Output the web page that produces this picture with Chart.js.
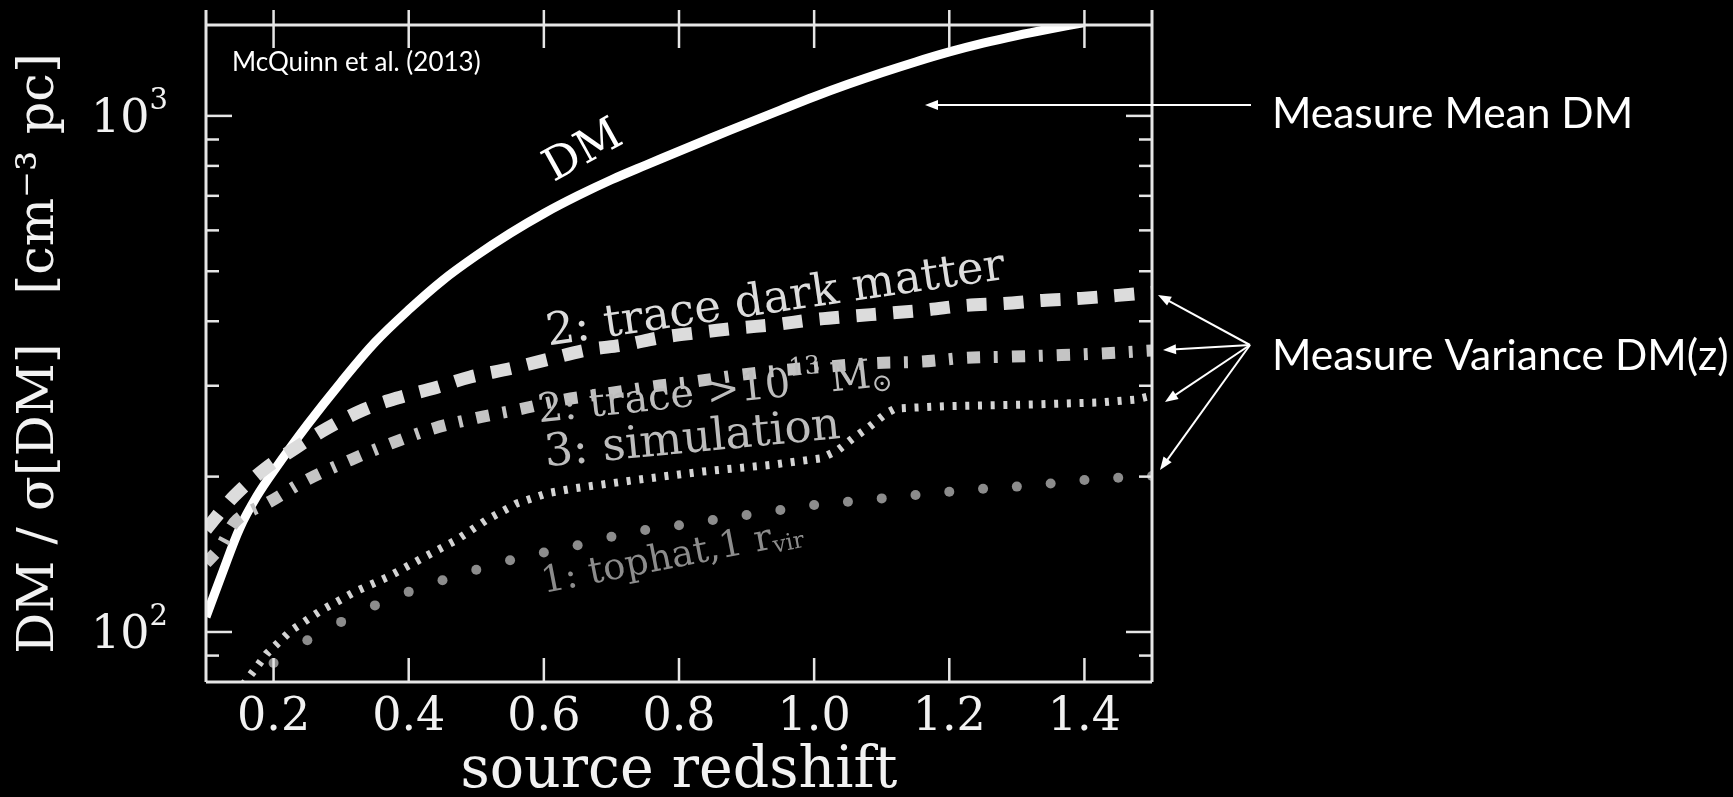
<!DOCTYPE html>
<html>
<head>
<meta charset="utf-8">
<title>DM / sigma[DM] vs source redshift</title>
<script src="https://cdn.jsdelivr.net/npm/chart.js@4.4.1/dist/chart.umd.min.js"></script>
<style>
  html, body { margin: 0; padding: 0; background: #000; }
  #wrap { width: 1733px; height: 797px; }
  canvas { display: block; }
</style>
</head>
<body>
<div id="wrap"><canvas id="dmChart" width="1733" height="797"></canvas></div>
<script>
'use strict';

// axis ticks
const xTicks = [0.2, 0.4, 0.6, 0.8, 1.0, 1.2, 1.4];
const yMajorTicks = [100, 1000];
const yMajorExp = ['2', '3'];
const yMinorTicks = [90, 200, 300, 400, 500, 600, 700, 800, 900];

// DM (mean)
const dmZ   = [0.1, 0.125, 0.15, 0.175, 0.2, 0.25, 0.3, 0.35, 0.4, 0.45, 0.5, 0.55, 0.6, 0.65, 0.7, 0.75, 0.8,
               0.85, 0.9, 0.95, 1.0, 1.05, 1.1, 1.15, 1.2, 1.25, 1.3, 1.35, 1.4];
const dmVal = [107, 131, 159, 183, 205, 252, 305, 364, 421, 480, 536, 592, 647, 700, 752, 802, 854,
               909, 966, 1026, 1089, 1151, 1212, 1272, 1330, 1383, 1431, 1475, 1517];

// 2: trace dark matter
const darkZ   = [0.1, 0.141, 0.185, 0.232, 0.279, 0.333, 0.383, 0.442, 0.491, 0.551, 0.6, 0.664, 0.719, 0.773, 0.827, 0.886, 0.941, 1.0, 1.054, 1.114, 1.168, 1.222, 1.281, 1.338, 1.395, 1.45, 1.5];
const darkVal = [158, 183, 206, 227, 248, 269.5, 284, 298, 312, 324, 336, 352, 360, 372, 380, 388, 394, 403, 409, 415, 421, 429, 433, 439, 443, 449, 455];

// 2: trace >10^13 Msun
const haloZ   = [0.1, 0.121, 0.146, 0.195, 0.249, 0.314, 0.374, 0.437, 0.501, 0.561, 0.63, 0.695, 0.761, 0.825, 0.891, 0.958, 1.022, 1.089, 1.158, 1.222, 1.292, 1.366, 1.425, 1.5];
const haloVal = [136, 146, 165, 179, 197, 215.5, 232, 248, 260, 269.5, 282, 290, 299, 306, 315, 322, 327, 332, 334, 339.6, 341.6, 344, 346.5, 351];

// 3: simulation
const simZ   = [0.155, 0.19, 0.226, 0.27, 0.32, 0.37, 0.42, 0.47, 0.515, 0.56, 0.605, 0.645, 0.735, 0.835, 0.935, 1.01, 1.035, 1.057, 1.082, 1.106, 1.12, 1.145, 1.2, 1.326, 1.425, 1.475, 1.5];
const simVal = [79, 90.8, 100.7, 110, 119.6, 128, 139, 150.6, 164.8, 177.5, 185.7, 189.8, 197, 204.6, 210.7, 217, 225, 237, 250, 265, 271, 272, 274, 276, 278.5, 282, 287];

// 1: tophat, 1 r_vir (one value per dot)
const tophatZ   = [0.2, 0.25, 0.3, 0.35, 0.4, 0.45, 0.5, 0.55, 0.6, 0.65, 0.7, 0.75, 0.8, 0.85, 0.9, 0.95, 1.0, 1.05, 1.1, 1.15, 1.2, 1.25, 1.3, 1.35, 1.4, 1.45, 1.5];
const tophatVal = [87.1, 96.4, 104.6, 112.6, 119.6, 126, 132, 137.7, 142.6, 147.3, 152.9, 157.6, 161, 164.8, 168.5, 172.3, 176.2, 178.8, 181.5, 184.2, 187, 189.5, 191.3, 194, 197, 199, 200.5];

const AXIS_COLOR = '#e6e6e6';
const TEXT_COLOR = '#f2f2f2';
const SERIF = '"DejaVu Serif", serif';

const pts = (zs, vs) => zs.map((z, i) => ({ x: z, y: vs[i] }));

// labels along the curves, anchored in data coordinates
const curveLabels = [
    { parts: [['DM']], z: 0.659, v: 851, angle: -29, size: 45, color: '#ffffff' },
    { parts: [['2: trace dark matter']], z: 0.943, v: 439, angle: -8.3, size: 45, color: '#dcdcdc' },
    { parts: [['2: trace >10'], ['13', 'sup'], ['\u2009M'], ['\u2299', 'sub']], z: 0.853, v: 290, angle: -6, size: 40, color: '#bdbdbd' },
    { parts: [['3: simulation']], z: 0.82, v: 235, angle: -5.5, size: 45, color: '#bdbdbd' },
    { parts: [['1: tophat,1 r'], ['vir', 'sub']], z: 0.79, v: 139, angle: -11, size: 37, color: '#8c8c8c' }
];

// slide annotations (canvas pixels)
const notes = {
    source: { text: 'McQuinn et al. (2013)', x: 232, y: 71, size: 26 },
    mean: { text: 'Measure Mean DM', x: 1272, y: 128, size: 42.5, from: [1251, 105], to: [925, 105] },
    variance: {
        text: 'Measure Variance DM(z)', x: 1272, y: 370, size: 42.5, from: [1250, 345],
        tips: [[1158, 295], [1163, 350], [1165, 402], [1160, 470]]
    }
};

function drawRich(ctx, parts, size, x, y, angle, color, align) {
    ctx.save();
    ctx.translate(x, y);
    ctx.rotate(angle * Math.PI / 180);
    ctx.fillStyle = color;
    ctx.textBaseline = 'middle';
    ctx.textAlign = 'left';
    const fontFor = k => `${k ? Math.round(size * 0.62) : size}px ${SERIF}`;
    let total = 0;
    parts.forEach(p => { ctx.font = fontFor(p[1]); total += ctx.measureText(p[0]).width; });
    let cx = align === 'right' ? -total : -total / 2;
    parts.forEach(p => {
        ctx.font = fontFor(p[1]);
        const dy = p[1] === 'sup' ? -size * 0.4 : (p[1] === 'sub' ? size * 0.22 : 0);
        ctx.fillText(p[0], cx, dy);
        cx += ctx.measureText(p[0]).width;
    });
    ctx.restore();
}

function arrow(ctx, x0, y0, x1, y1) {
    const a = Math.atan2(y1 - y0, x1 - x0), head = 13, half = 5;
    const c = Math.cos(a), s = Math.sin(a);
    ctx.beginPath();
    ctx.moveTo(x0, y0);
    ctx.lineTo(x1 - head * 0.7 * c, y1 - head * 0.7 * s);
    ctx.stroke();
    ctx.beginPath();
    ctx.moveTo(x1, y1);
    ctx.lineTo(x1 - head * c + half * s, y1 - head * s - half * c);
    ctx.lineTo(x1 - head * c - half * s, y1 - head * s + half * c);
    ctx.closePath();
    ctx.fill();
}

// frame + inward ticks on all four sides, 10^n labels, texts and arrows
const framePlugin = {
    id: 'frame',
    afterDatasetsDraw(chart) {
        const { ctx, chartArea: a, scales: { x, y } } = chart;
        const seg = (x0, y0, x1, y1) => { ctx.beginPath(); ctx.moveTo(x0, y0); ctx.lineTo(x1, y1); ctx.stroke(); };
        ctx.save();
        ctx.strokeStyle = AXIS_COLOR;
        ctx.lineWidth = 3;
        seg(a.left, a.top - 15, a.left, a.bottom);
        seg(a.left, a.bottom, a.right, a.bottom);
        seg(a.right, a.bottom, a.right, a.top - 15);
        seg(a.left, a.top, a.right, a.top);
        ctx.lineWidth = 2.5;
        xTicks.forEach(v => {
            const px = x.getPixelForValue(v);
            seg(px, a.bottom, px, a.bottom - 24);
            seg(px, a.top - 15, px, a.top + 23);
        });
        yMajorTicks.forEach(v => {
            const py = y.getPixelForValue(v);
            seg(a.left, py, a.left + 26, py);
            seg(a.right, py, a.right - 26, py);
        });
        yMinorTicks.forEach(v => {
            const py = y.getPixelForValue(v);
            seg(a.left, py, a.left + 13, py);
            seg(a.right, py, a.right - 13, py);
        });
        ctx.restore();
    },
    afterDraw(chart) {
        const { ctx, chartArea: a, scales: { x, y } } = chart;
        yMajorTicks.forEach((v, i) => {
            drawRich(ctx, [['10'], [yMajorExp[i], 'sup']], 46, a.left - 38, y.getPixelForValue(v) + 4, 0, TEXT_COLOR, 'right');
        });
        curveLabels.forEach(l => {
            drawRich(ctx, l.parts, l.size, x.getPixelForValue(l.z), y.getPixelForValue(l.v), l.angle, l.color);
        });

        ctx.save();
        ctx.fillStyle = '#ffffff';
        ctx.strokeStyle = '#ffffff';
        ctx.textBaseline = 'alphabetic';
        ctx.textAlign = 'left';
        ctx.font = `${notes.source.size}px Lato`;
        ctx.fillText(notes.source.text, notes.source.x, notes.source.y);
        ctx.font = `${notes.mean.size}px Lato`;
        ctx.fillText(notes.mean.text, notes.mean.x, notes.mean.y);
        ctx.font = `${notes.variance.size}px Lato`;
        ctx.fillText(notes.variance.text, notes.variance.x, notes.variance.y);
        ctx.lineWidth = 2;
        arrow(ctx, notes.mean.from[0], notes.mean.from[1], notes.mean.to[0], notes.mean.to[1]);
        notes.variance.tips.forEach(t => arrow(ctx, notes.variance.from[0], notes.variance.from[1], t[0], t[1]));
        ctx.restore();
    }
};

const lineBase = { pointRadius: 0, fill: false, clip: 0, borderCapStyle: 'butt' };

new Chart(document.getElementById('dmChart'), {
    type: 'line',
    data: {
        datasets: [
            { ...lineBase, label: 'DM', data: pts(dmZ, dmVal), borderColor: '#ffffff', borderWidth: 9,
              tension: 0.35, order: 5 },
            { ...lineBase, label: '2: trace dark matter', data: pts(darkZ, darkVal), borderColor: '#dcdcdc',
              borderWidth: 13, borderDash: [20, 17], tension: 0.35, order: 4 },
            { ...lineBase, label: '2: trace >10^13 Msun', data: pts(haloZ, haloVal), borderColor: '#c4c4c4',
              borderWidth: 12, borderDash: [13, 14, 4, 14], tension: 0.35, order: 3 },
            { ...lineBase, label: '3: simulation', data: pts(simZ, simVal), borderColor: '#d4d4d4',
              borderWidth: 8, borderDash: [4, 8.7], tension: 0, order: 2 },
            { label: '1: tophat, 1 r_vir', data: pts(tophatZ, tophatVal), showLine: false, clip: 0,
              pointRadius: 5, pointBackgroundColor: '#8c8c8c', pointBorderWidth: 0, order: 1 }
        ]
    },
    options: {
        responsive: false,
        devicePixelRatio: 1,
        animation: false,
        events: [],
        layout: { padding: { top: 25, right: 581, bottom: 0, left: 0 } },
        plugins: {
            legend: { display: false },  // labels sit on the curves
            tooltip: { enabled: false }
        },
        scales: {
            x: {
                type: 'linear',
                min: 0.1,
                max: 1.5,
                grid: { display: false, drawTicks: false },
                border: { display: false },
                afterBuildTicks: s => { s.ticks = xTicks.map(v => ({ value: v })); },
                afterFit: s => { s.height = 115; s.paddingLeft = 0; s.paddingRight = 0; },
                ticks: {
                    autoSkip: false,
                    maxRotation: 0,
                    padding: 8,
                    color: TEXT_COLOR,
                    font: { family: SERIF, size: 46 },
                    callback: v => Number(v).toFixed(1)
                },
                title: {
                    display: true,
                    text: 'source redshift',
                    color: TEXT_COLOR,
                    font: { family: SERIF, size: 57, lineHeight: 1 },
                    padding: { top: 0, bottom: -4 }
                }
            },
            y: {
                type: 'logarithmic',
                min: 80,
                max: 1500,
                grid: { display: false, drawTicks: false },
                border: { display: false },
                afterBuildTicks: s => { s.ticks = yMajorTicks.map(v => ({ value: v })); },
                afterFit: s => { s.width = 206; s.paddingTop = 0; s.paddingBottom = 0; },
                ticks: { display: false },
                title: {
                    display: true,
                    text: 'DM / \u03c3[DM]   [cm\u207b\u00b3 pc]',
                    color: TEXT_COLOR,
                    font: { family: SERIF, size: 51, lineHeight: 1 },
                    padding: { top: 14, bottom: 0 }
                }
            }
        }
    },
    plugins: [framePlugin]
});
</script>
</body>
</html>
